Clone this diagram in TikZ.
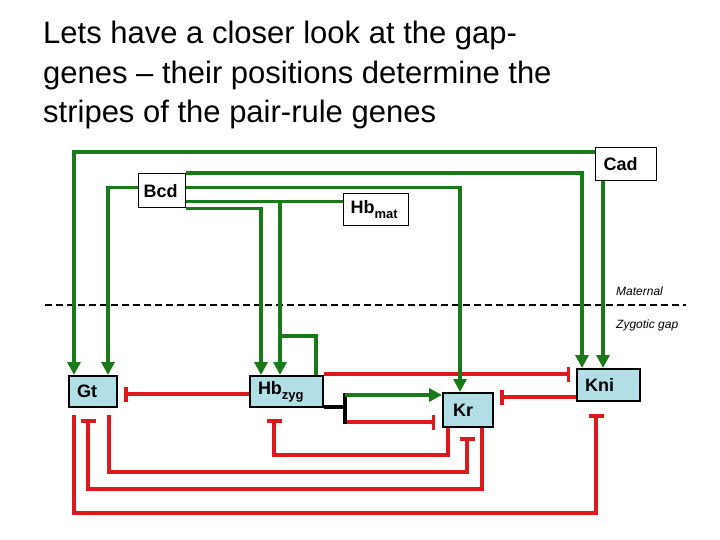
\documentclass[tikz,border=0pt]{standalone}
\usepackage{fontspec}
\setmainfont{Liberation Sans}
\usetikzlibrary{arrows.meta,calc}
\definecolor{gr}{RGB}{26,122,26}
\definecolor{rd}{RGB}{222,24,28}
\definecolor{bx}{RGB}{178,222,230}
\newcommand{\sbt}[1]{\raisebox{-5pt}{\fontsize{13}{13}\selectfont #1}}
\tikzset{
  boxfont/.style={font=\fontsize{18}{18}\selectfont\bfseries},
  mbox/.style={draw, line width=1.3pt, fill=white, boxfont, anchor=north west, inner ysep=0pt, align=left},
  zbox/.style={draw, line width=2pt, fill=bx, boxfont, anchor=north west, inner ysep=0pt, align=left},
  act/.style={draw=gr, line width=3.5pt, -{Triangle[length=13pt,width=13pt]}},
  gline/.style={draw=gr, line width=3.5pt},
  inh/.style={draw=rd, line width=3.5pt, -{Bar[width=15pt]}},
  kline/.style={draw=black, line width=3.5pt},
  ttl/.style={anchor=base west, inner sep=0pt, font=\fontsize{31}{31}\selectfont},
  lab/.style={anchor=base west, inner sep=0pt, font=\fontsize{12}{14}\selectfont\itshape},
}
\begin{document}
\begin{tikzpicture}[x=1pt,y=-1pt]
\useasboundingbox (0,0) rectangle (720,540);
% title
\node[ttl] (t1) at (43,44) {Lets have a closer look at the gap-};
\node[ttl] (t2) at (43,84) {genes – their positions determine the};
\node[ttl] (t3) at (43,123) {stripes of the pair-rule genes};
% maternal / zygotic separator
\draw[line width=1.8pt, dash pattern=on 7pt off 4pt] (45,305) -- (686,305);
\node[lab] (mat) at (616,295) {Maternal};
\node[lab] (zyg) at (616,328) {Zygotic gap};
% nodes
\node[mbox, minimum height=33pt, text width=45pt, inner xsep=8pt] (cad) at (595,147) {Cad};
\node[mbox, minimum height=34pt, text width=37pt, inner xsep=5pt] (bcd) at (138,173) {Bcd};
\node[mbox, minimum height=32pt, text width=51pt, inner xsep=7pt] (hbm) at (343,193) {Hb\sbt{mat}};
\node[zbox, minimum height=31pt, text width=32pt, inner xsep=8pt] (gt) at (68,375) {Gt};
\node[zbox, minimum height=31pt, text width=57pt, inner xsep=8pt] (hbz) at (249,375) {Hb\sbt{zyg}};
\node[zbox, minimum height=34pt, text width=30pt, inner xsep=10pt] (kr) at (442,392) {Kr};
\node[zbox, minimum height=32pt, text width=47pt, inner xsep=8pt] (kni) at (576,368) {Kni};
% helper coordinates
\coordinate (jt) at (345,395);
\coordinate (jb) at (345,422);
\coordinate (y4) at (0,513);
\coordinate (y5) at (0,489);
\coordinate (y6) at (0,472);
\coordinate (y7) at (0,455);
\coordinate (hbmin) at ([yshift=8pt]hbm.west);
\coordinate (fb) at ([xshift=31pt,yshift=39pt]hbz.north west);
% red repressions
\draw[inh, shorten >=6pt] ([yshift=1pt]hbz.north east) -- ([yshift=1pt]hbz.north east -| kni.west);
\draw[inh, shorten >=6pt] ([yshift=5pt]kni.south west) -- ([yshift=5pt]kni.south west -| kr.east);
\draw[inh, shorten >=6pt] ([yshift=-2.5pt]hbz.west) -- ([yshift=-2.5pt]hbz.west -| gt.east);
\draw[inh, shorten >=7pt] (jb) -- (jb -| kr.west);
\draw[inh, shorten >=12pt] ([xshift=6pt,yshift=-7pt]gt.south west) -- ([xshift=6pt]gt.south west |- y4) -| ([xshift=20pt]kni.south west);
\draw[inh, shorten >=11pt] ([xshift=-12pt]kr.south east) -- ([xshift=-12pt]kr.south east |- y5) -| ([xshift=20pt]gt.south west);
\draw[inh, shorten >=9pt] ([xshift=-9pt,yshift=-7pt]gt.south east) -- ([xshift=-9pt]gt.south east |- y6) -| ([xshift=25pt]kr.south west);
\draw[inh, shorten >=11pt] ([xshift=6pt]kr.south west) -- ([xshift=6pt]kr.south west |- y7) -| ([xshift=25pt]hbz.south west);
% black junction Hb_zyg
\draw[kline] ([yshift=1pt]hbz.south east) -- ([yshift=1pt]hbz.south east -| jt);
\draw[kline, line cap=rect] (jt) -- (jb);
% green activations
\draw[act] ([yshift=-5pt]cad.north west) -| ([xshift=6pt]gt.north west);
\draw[act] ([xshift=8pt]cad.south west) -- ([xshift=8pt]cad.south west |- kni.north);
\draw[act] (bcd.north east) -| ([xshift=6pt]kni.north west);
\draw[act] ([yshift=3pt]bcd.east) -| ([xshift=18pt]kr.north west);
\draw[act] ([yshift=3pt]bcd.west) -| ([xshift=-10pt]gt.north east);
\draw[gline] (bcd.east |- hbmin) -- (hbmin);
\draw[act] ([xshift=31pt]hbz.north west |- hbmin) -- ([xshift=31pt]hbz.north west);
\draw[gline] (fb) -| ([xshift=-8pt]hbz.north east);
\draw[act] (bcd.south east) -| ([xshift=12pt]hbz.north west);
\draw[act] (jt) -- (jt -| kr.west);
\end{tikzpicture}
\end{document}
